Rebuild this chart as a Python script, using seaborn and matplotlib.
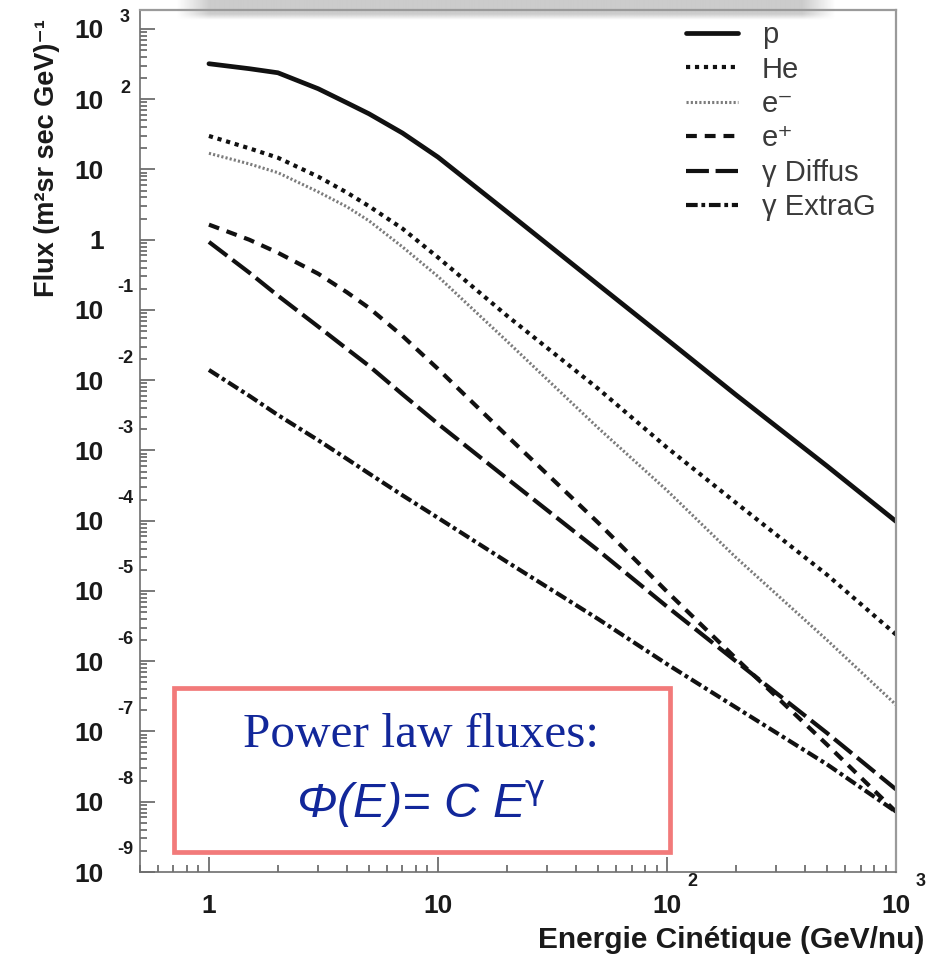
import numpy as np
import pandas as pd
import matplotlib
matplotlib.use("Agg")
import matplotlib.pyplot as plt
from matplotlib.patches import Rectangle
from matplotlib.ticker import FixedLocator, FixedFormatter, LogLocator, NullFormatter
import seaborn as sns

# Kinetic energy grid (GeV/nucleon)
energy = [1, 1.5, 2, 3, 4, 5, 7, 10, 20, 50, 100, 200, 500, 1000]

# Differential fluxes (m^2 sr s GeV)^-1
flux_p = [320, 272, 238, 141, 89, 62, 33, 15, 2.5, 0.23, 0.038, 6.2e-3, 6.0e-4, 9.8e-5]
flux_he = [30, 20, 14.7, 7.9, 4.7, 3.0, 1.44, 0.56, 0.083, 7.6e-3, 1.1e-3, 1.8e-4, 1.7e-5, 2.4e-6]
flux_em = [17, 12, 9.0, 4.8, 2.95, 1.86, 0.79, 0.30, 0.036, 2.1e-3, 2.7e-4, 3.0e-5, 2.0e-6, 2.4e-7]
flux_ep = [1.64, 1.0, 0.653, 0.328, 0.179, 0.107, 0.0427, 0.0145, 1.62e-3, 9.4e-5, 9.8e-6, 1.1e-6, 6.5e-8, 7.2e-9]
flux_gdiff = [0.93, 0.34, 0.16, 0.058, 0.028, 0.016, 6.3e-3, 2.4e-3, 4.0e-4, 3.8e-5, 6.0e-6, 1.0e-6, 9.5e-8, 1.5e-8]
flux_gextra = [0.014, 6.0e-3, 3.2e-3, 1.4e-3, 7.6e-4, 4.7e-4, 2.3e-4, 1.1e-4, 2.6e-5, 4.0e-6, 9.1e-7, 2.2e-7, 3.4e-8, 7.2e-9]

species = ["p", "He", "e⁻", "e⁺", "γ Diffus", "γ ExtraG"]
fluxes = [flux_p, flux_he, flux_em, flux_ep, flux_gdiff, flux_gextra]

x_major = [1, 10, 100, 1000]
x_labels = ["1", "10", "10", "10"]
x_exponents = {100: "2", 1000: "3"}
y_exp = list(range(-9, 4))

df = pd.concat(
    [pd.DataFrame({"energy": energy, "flux": f, "species": s}) for s, f in zip(species, fluxes)],
    ignore_index=True,
)

sns.set_style("white")
plt.rcParams["font.family"] = ["Liberation Sans", "DejaVu Sans"]

line_styles = {
    "p": dict(color="#111111", linewidth=3.4, linestyle="-"),
    "He": dict(color="#111111", linewidth=3.0, linestyle=(0, (1.0, 1.15))),
    "e⁻": dict(color="#7c7c7c", linewidth=2.2, linestyle=(0, (0.7, 0.7))),
    "e⁺": dict(color="#111111", linewidth=3.0, linestyle=(0, (2.6, 1.9))),
    "γ Diffus": dict(color="#111111", linewidth=3.0, linestyle=(0, (5.5, 1.6))),
    "γ ExtraG": dict(color="#111111", linewidth=3.0, linestyle=(0, (2.8, 0.9, 0.9, 0.9))),
}

fig = plt.figure(figsize=(9.42, 9.56), dpi=100)
ax = fig.add_axes([140 / 942, 84 / 956, 756 / 942, 862 / 956])

for s in species:
    sns.lineplot(
        data=df[df["species"] == s], x="energy", y="flux", ax=ax,
        estimator=None, sort=False, label=s, **line_styles[s],
    )

ax.set_xscale("log")
ax.set_yscale("log")
ax.set_xlim(0.5, 1000)
ax.set_ylim(1e-9, 10 ** 3.27)

# Axis frame
for side, sp in ax.spines.items():
    sp.set_visible(True)
    sp.set_color("#6e6e6e" if side in ("left", "bottom") else "#9a9a9a")
    sp.set_linewidth(1.2 if side in ("left", "bottom") else 1.6)

# Ticks
ax.xaxis.set_major_locator(FixedLocator(x_major))
ax.xaxis.set_major_formatter(FixedFormatter(x_labels))
ax.xaxis.set_minor_locator(LogLocator(base=10, subs=np.arange(2, 10), numticks=20))
ax.xaxis.set_minor_formatter(NullFormatter())

y_major = [10.0 ** k for k in y_exp]
y_labels = ["1" if k == 0 else "10" for k in y_exp]
ax.yaxis.set_major_locator(FixedLocator(y_major))
ax.yaxis.set_major_formatter(FixedFormatter(y_labels))
ax.yaxis.set_minor_locator(LogLocator(base=10, subs=np.arange(2, 10), numticks=30))
ax.yaxis.set_minor_formatter(NullFormatter())

ax.tick_params(which="both", direction="in", color="#555555", width=1.1,
               bottom=True, left=True, top=False, right=False, labelcolor="#1a1a1a")
ax.tick_params(which="major", length=11, labelsize=19)
ax.tick_params(which="minor", length=5)
ax.tick_params(axis="y", which="major", pad=26)
ax.tick_params(axis="x", which="major", pad=16)
for lab in ax.get_xticklabels() + ax.get_yticklabels():
    lab.set_fontweight("bold")

# Decade exponents, set off from the "10" labels
for k in y_exp:
    if k in (0, 1):
        continue
    dy = 11 if k > 0 else 22
    ax.annotate(str(k), xy=(0, 10.0 ** k), xycoords=ax.get_yaxis_transform(),
                xytext=(-15, dy), textcoords="offset pixels", ha="center", va="center",
                fontsize=13, fontweight="bold", color="#1a1a1a")
for xv, e in x_exponents.items():
    ax.annotate(e, xy=(xv, 0), xycoords=ax.get_xaxis_transform(),
                xytext=(25, -9), textcoords="offset pixels", ha="center", va="center",
                fontsize=13, fontweight="bold", color="#1a1a1a")

# Axis titles
ax.set_xlabel("Energie Cinétique (GeV/nu)", fontsize=21.5, fontweight="bold", color="#1a1a1a")
ax.xaxis.set_label_coords(1.038, -0.063)
ax.xaxis.label.set_horizontalalignment("right")
ax.set_ylabel("Flux (m²sr sec GeV)⁻¹", fontsize=19.5, fontweight="bold", color="#1a1a1a",
              loc="top")
ax.yaxis.set_label_coords(-0.106, 0.99)

# Legend
leg = ax.legend(loc="upper left", bbox_to_anchor=(0.722, 0.987), frameon=False,
                fontsize=21, handlelength=1.8, handletextpad=0.8, labelspacing=0.22,
                borderpad=0, borderaxespad=0)
for t in leg.get_texts():
    t.set_color("#3a3a3a")

# Annotation box
ax.add_patch(Rectangle((0.045, 0.023), 0.656, 0.19, transform=ax.transAxes,
                       facecolor="white", edgecolor="#f27a7a", linewidth=3.4, zorder=6))
ax.text(0.372, 0.159, "Power law fluxes:", transform=ax.transAxes, ha="center", va="center",
        fontsize=35.5, family=["Liberation Serif", "DejaVu Serif"], color="#12279a", zorder=7)
ax.text(0.372, 0.079, r"Φ(E)= C E$^{\mathrm{γ}}$", transform=ax.transAxes, ha="center",
        va="center", fontsize=35, fontstyle="italic", color="#12279a", zorder=7)

# Soft shadow band along the top edge
band_h, band_w = 40, 400
rows = np.linspace(0, 1, band_h)[:, None]
cols = np.linspace(0, 1, band_w)[None, :]
vert = np.clip((1.0 - rows) / 0.3, 0, 1)
horiz = np.clip(np.minimum(cols, 1 - cols) / 0.05, 0, 1)
rgba = np.zeros((band_h, band_w, 4))
rgba[..., :3] = 0.6
rgba[..., 3] = 0.5 * vert * horiz
shade = fig.add_axes([176 / 942, 1 - 20 / 956, 660 / 942, 20 / 956], zorder=10)
shade.imshow(rgba, aspect="auto", interpolation="bilinear")
shade.axis("off")

fig.savefig("out.png", dpi=100)
